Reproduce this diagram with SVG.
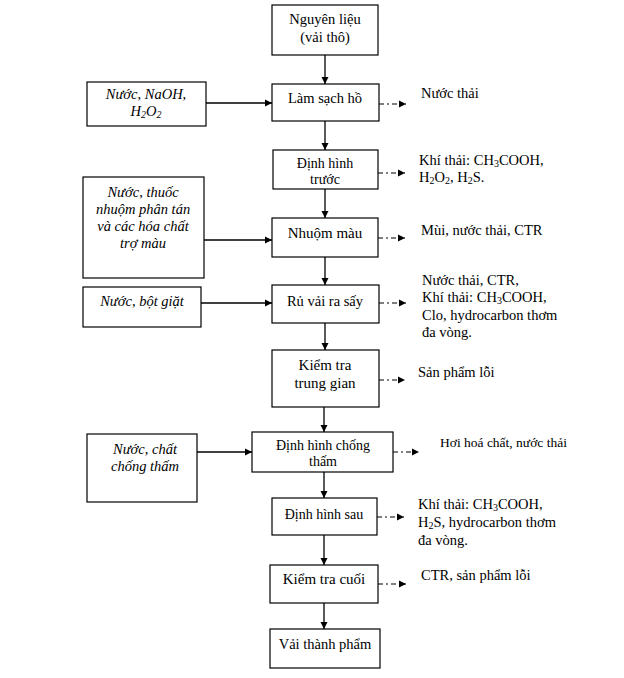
<svg xmlns="http://www.w3.org/2000/svg" width="624" height="678" viewBox="0 0 624 678">
<defs>
<marker id="ah" markerWidth="8" markerHeight="8" refX="7" refY="4" orient="auto" markerUnits="userSpaceOnUse">
<path d="M0,0.5 L7,4 L0,7.5 Z" fill="#000"/>
</marker>
<style>
.box{fill:#fff;stroke:#000;stroke-width:1.2}
.t{font-family:"Liberation Serif","Times New Roman","DejaVu Serif",serif;font-size:14.5px;fill:#000;text-anchor:middle}
.ti{font-family:"Liberation Serif","Times New Roman","DejaVu Serif",serif;font-size:14.5px;font-style:italic;fill:#000;text-anchor:middle}
.r{font-family:"Liberation Serif","Times New Roman","DejaVu Serif",serif;font-size:14.5px;fill:#000}
.sub{font-size:10px}
.ln{stroke:#000;stroke-width:1.3;fill:none;marker-end:url(#ah)}
.dl{stroke:#000;stroke-width:1.2;fill:none;stroke-dasharray:5 3 2 3;marker-end:url(#ah)}
</style>
</defs>
<rect width="624" height="678" fill="#fff"/>

<g id="n1"><rect class="box" x="272" y="5" width="106" height="50"/>
<text class="t" x="325" y="24">Nguyên liệu</text><text class="t" x="325" y="42">(vải thô)</text></g>

<g id="n2"><rect class="box" x="272" y="84" width="107" height="37"/>
<text class="t" x="325" y="103">Làm sạch hồ</text></g>

<g id="n3"><rect class="box" x="273" y="150" width="105" height="39"/>
<text class="t" x="325" y="168" style="font-size:14px">Định hình</text><text class="t" x="325" y="184" style="font-size:14px">trước</text></g>

<g id="n4"><rect class="box" x="272" y="218" width="106" height="39"/>
<text class="t" x="325" y="238" style="font-size:15px">Nhuộm màu</text></g>

<g id="n5"><rect class="box" x="272" y="285" width="107" height="38"/>
<text class="t" x="325" y="306">Rủ vải ra sấy</text></g>

<g id="n6"><rect class="box" x="272" y="350" width="107" height="57"/>
<text class="t" x="325" y="370" style="font-size:15px">Kiểm tra</text><text class="t" x="325" y="388" style="font-size:15px">trung gian</text></g>

<g id="n7"><rect class="box" x="252" y="432" width="141" height="40"/>
<text class="t" x="323" y="450" style="font-size:14px">Định hình chống</text><text class="t" x="323" y="466" style="font-size:14px">thấm</text></g>

<g id="n8"><rect class="box" x="272" y="498" width="105" height="37"/>
<text class="t" x="324" y="519" style="font-size:14px">Định hình sau</text></g>

<g id="n9"><rect class="box" x="270" y="565" width="108" height="38"/>
<text class="t" x="324" y="584" style="font-size:15px">Kiểm tra cuối</text></g>

<g id="n10"><rect class="box" x="270" y="629" width="110" height="39"/>
<text class="t" x="325" y="649">Vải thành phẩm</text></g>

<g id="in1"><rect class="box" x="87" y="82" width="119" height="44"/>
<text class="ti" x="146" y="99">Nước, NaOH,</text>
<text class="ti" x="146" y="116">H<tspan class="sub" dy="2">2</tspan><tspan dy="-2">O</tspan><tspan class="sub" dy="2">2</tspan></text></g>

<g id="in2"><rect class="box" x="83" y="177" width="121" height="101"/>
<text class="ti" x="143" y="197">Nước, thuốc</text>
<text class="ti" x="143" y="214">nhuộm phân tán</text>
<text class="ti" x="143" y="231">và các hóa chất</text>
<text class="ti" x="143" y="248">trợ màu</text></g>

<g id="in3"><rect class="box" x="83" y="287" width="118" height="40"/>
<text class="ti" x="142" y="306">Nước, bột giặt</text></g>

<g id="in4"><rect class="box" x="87" y="434" width="110" height="68"/>
<text class="ti" x="145" y="454">Nước, chất</text>
<text class="ti" x="145" y="471">chống thấm</text></g>

<g id="o1"><text class="r" x="421" y="98">Nước thải</text></g>
<g id="o2"><text class="r" x="419" y="165">Khí thải: CH<tspan class="sub" dy="2">3</tspan><tspan dy="-2">COOH,</tspan></text>
<text class="r" x="419" y="182">H<tspan class="sub" dy="2">2</tspan><tspan dy="-2">O</tspan><tspan class="sub" dy="2">2</tspan><tspan dy="-2">, H</tspan><tspan class="sub" dy="2">2</tspan><tspan dy="-2">S.</tspan></text></g>
<g id="o3"><text class="r" x="421" y="235">Mùi, nước thải, CTR</text></g>
<g id="o4"><text class="r" x="422" y="285">Nước thải, CTR,</text>
<text class="r" x="422" y="302">Khí thải: CH<tspan class="sub" dy="2">3</tspan><tspan dy="-2">COOH,</tspan></text>
<text class="r" x="422" y="320">Clo, hydrocarbon thơm</text>
<text class="r" x="422" y="337">đa vòng.</text></g>
<g id="o5"><text class="r" x="418" y="377">Sản phẩm lỗi</text></g>
<g id="o6"><text class="r" x="440" y="447" style="font-size:13.5px">Hơi hoá chất, nước thải</text></g>
<g id="o7"><text class="r" x="418" y="509">Khí thải: CH<tspan class="sub" dy="2">3</tspan><tspan dy="-2">COOH,</tspan></text>
<text class="r" x="418" y="527">H<tspan class="sub" dy="2">2</tspan><tspan dy="-2">S, hydrocarbon thơm</tspan></text>
<text class="r" x="418" y="545">đa vòng.</text></g>
<g id="o8"><text class="r" x="421" y="580">CTR, sản phẩm lỗi</text></g>

<g id="connectors">
<line class="ln" x1="325" y1="55" x2="325" y2="84"/>
<line class="ln" x1="325" y1="121" x2="325" y2="150"/>
<line class="ln" x1="325" y1="189" x2="325" y2="218"/>
<line class="ln" x1="325" y1="257" x2="325" y2="285"/>
<line class="ln" x1="325" y1="323" x2="325" y2="350"/>
<line class="ln" x1="324" y1="407" x2="324" y2="432"/>
<line class="ln" x1="324" y1="472" x2="324" y2="498"/>
<line class="ln" x1="324" y1="535" x2="324" y2="565"/>
<line class="ln" x1="324" y1="603" x2="324" y2="629"/>

<line class="ln" x1="206" y1="103" x2="272" y2="103"/>
<line class="ln" x1="204" y1="240" x2="272" y2="240"/>
<line class="ln" x1="201" y1="303" x2="272" y2="303"/>
<line class="ln" x1="197" y1="452" x2="252" y2="452"/>

<line class="dl" x1="379" y1="104" x2="406" y2="104"/>
<line class="dl" x1="378" y1="173" x2="405" y2="173"/>
<line class="dl" x1="378" y1="238" x2="405" y2="238"/>
<line class="dl" x1="379" y1="303" x2="406" y2="303"/>
<line class="dl" x1="379" y1="380" x2="405" y2="380"/>
<line class="dl" x1="393" y1="452" x2="419" y2="452"/>
<line class="dl" x1="377" y1="517" x2="404" y2="517"/>
<line class="dl" x1="378" y1="584" x2="406" y2="584"/>
</g>
</svg>
